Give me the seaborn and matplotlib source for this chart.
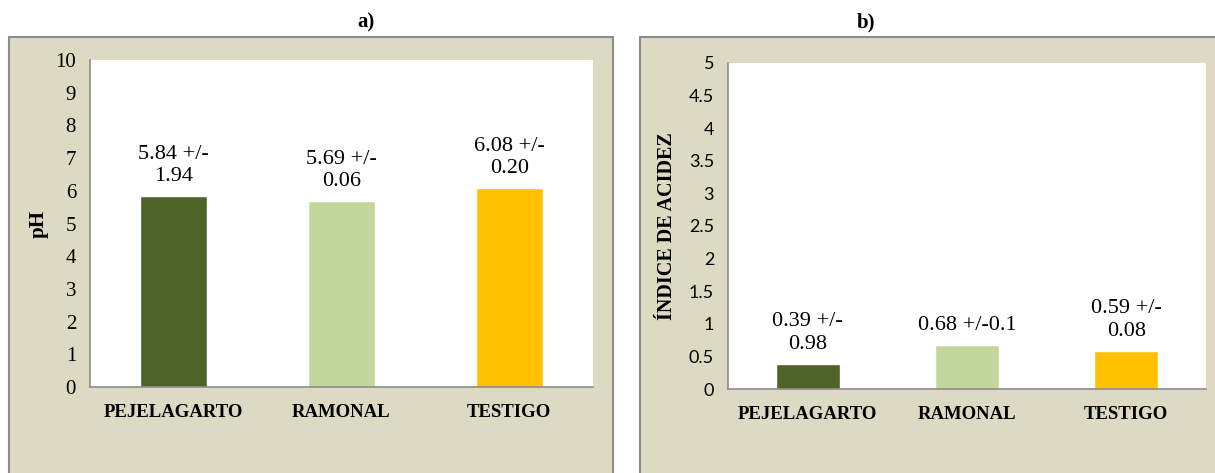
import seaborn as sns
import matplotlib.pyplot as plt
from matplotlib.patches import Rectangle
import pandas as pd

sitios = ['PEJELAGARTO', 'RAMONAL', 'TESTIGO']
ph = [5.84, 5.69, 6.08]
ph_etiquetas = ['5.84 +/-\n1.94', '5.69 +/-\n0.06', '6.08 +/-\n0.20']
acidez = [0.39, 0.68, 0.59]
acidez_etiquetas = ['0.39 +/-\n0.98', '0.68 +/-0.1', '0.59 +/-\n0.08']
colores = ['#4F6228', '#C3D69B', '#FFC000']

df = pd.DataFrame({'sitio': sitios, 'ph': ph, 'acidez': acidez})

sns.set_style('white')
plt.rcParams['font.family'] = ['Liberation Serif', 'DejaVu Serif']
plt.rcParams['text.color'] = 'black'
plt.rcParams['xtick.color'] = 'black'
plt.rcParams['ytick.color'] = 'black'
plt.rcParams['axes.labelcolor'] = 'black'

fig = plt.figure(figsize=(12.15, 4.73), dpi=100)

# fondos beige de cada panel (estilo Excel)
fondo = '#DDD9C3'
borde = '#8C8C8C'
fig.patches.append(Rectangle((9 / 1215, -0.05), 604 / 1215, 1.05 - 37 / 473,
                             transform=fig.transFigure, facecolor=fondo,
                             edgecolor=borde, linewidth=1.5, zorder=-10))
fig.patches.append(Rectangle((640 / 1215, -0.05), 0.5, 1.05 - 37 / 473,
                             transform=fig.transFigure, facecolor=fondo,
                             edgecolor=borde, linewidth=1.5, zorder=-10))

ax1 = fig.add_axes([90 / 1215, 1 - 387 / 473, 503 / 1215, 327 / 473])
ax2 = fig.add_axes([728 / 1215, 1 - 389 / 473, 478 / 1215, 326 / 473])

paneles = [
    (ax1, 'ph', ph_etiquetas, 10, 1, 'pH', 15, 'a)', 366),
    (ax2, 'acidez', acidez_etiquetas, 5, 0.5, 'ÍNDICE DE ACIDEZ', 14.5, 'b)', 866),
]

for ax, col, etiquetas, ymax, paso, ylab, ylab_size, titulo, tx in paneles:
    sns.barplot(data=df, x='sitio', y=col, hue='sitio', palette=colores,
                width=0.4, legend=False, ax=ax, saturation=1)
    for cont, lab in zip(ax.containers, etiquetas):
        ax.bar_label(cont, labels=[lab], padding=7, fontsize=16,
                     linespacing=1.25, family='Liberation Serif')
    ax.set_ylim(0, ymax)
    ax.set_xlim(-0.5, 2.5)
    ticks = [i * paso for i in range(int(round(ymax / paso)) + 1)]
    ax.set_yticks(ticks)
    ax.set_yticklabels([f'{t:g}' for t in ticks])
    ax.set_xticks([0.5, 1.5, 2.5], minor=True)
    ax.tick_params(axis='x', which='major', length=0, pad=12)
    ax.tick_params(axis='x', which='minor', length=5, width=1.2, color=borde, direction='out')
    ax.tick_params(axis='y', length=5, width=1.2, color=borde, labelcolor='black',
                   direction='out', pad=5)
    for lbl in ax.get_xticklabels():
        lbl.set_fontweight('bold')
        lbl.set_fontsize(13.5)
    ax.set_xlabel('')
    ax.set_ylabel(ylab, fontsize=ylab_size, fontweight='bold')
    ax.set_facecolor('white')
    for s in ['top', 'right']:
        ax.spines[s].set_visible(False)
    for s in ['left', 'bottom']:
        ax.spines[s].set_color(borde)
        ax.spines[s].set_linewidth(1.2)
    fig.text(tx / 1215, 1 - 22 / 473, titulo, ha='center', va='center',
             fontsize=15, fontweight='bold')

for lbl in ax1.get_yticklabels():
    lbl.set_fontsize(15)
for lbl in ax2.get_yticklabels():
    lbl.set_fontsize(13)
    lbl.set_family(['Lato', 'DejaVu Sans'])

ax1.yaxis.set_label_coords(-0.083, 0.5)
ax2.yaxis.set_label_coords(-0.107, 0.5)

fig.savefig('out.png', dpi=100)
